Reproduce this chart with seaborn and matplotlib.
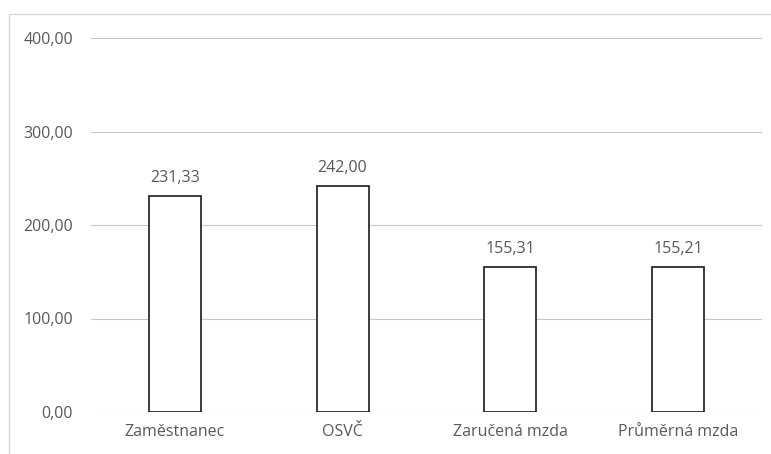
import matplotlib
matplotlib.use("Agg")
import matplotlib.pyplot as plt
from matplotlib.patches import Rectangle
import seaborn as sns
import pandas as pd

categories = ["Zaměstnanec", "OSVČ", "Zaručená mzda", "Průměrná mzda"]
values = [231.33, 242.00, 155.31, 155.21]
y_ticks = [0, 100, 200, 300, 400]

sns.set_theme(style="white")
plt.rcParams["font.family"] = ["Open Sans", "DejaVu Sans"]

text_color = "#595959"
font_size = 11.5
df = pd.DataFrame({"kategorie": categories, "hodnota": values})

fig = plt.figure(figsize=(7.71, 4.54), dpi=100)
ax = fig.add_axes([91 / 771, 42 / 454, (762 - 91) / 771, (412 - 38) / 454])

# light frame around the chart area
fig.patches.append(Rectangle((9 / 771, -0.1), 1.0, (454 - 14) / 454 + 0.1,
                             transform=fig.transFigure, fill=False,
                             edgecolor="#d9d9d9", linewidth=1.0))

sns.barplot(data=df, x="kategorie", y="hodnota", ax=ax, color="white",
            edgecolor="#1a1a1a", linewidth=1.2, width=0.31, zorder=3)

ax.set_ylim(0, 400)
ax.set_xlim(-0.5, len(categories) - 0.5)
ax.set_yticks(y_ticks)
ax.set_yticklabels([f"{v:.2f}".replace(".", ",") for v in y_ticks])
ax.yaxis.grid(True, color="#c8c8c8", linewidth=0.8, zorder=0)
ax.set_axisbelow(True)
for s in ax.spines.values():
    s.set_visible(False)
ax.set_xlabel("")
ax.set_ylabel("")
ax.tick_params(axis="y", length=0, pad=13, labelsize=font_size, labelcolor=text_color)
ax.tick_params(axis="x", length=0, pad=9, labelsize=font_size, labelcolor=text_color)

for i, v in enumerate(values):
    ax.annotate(f"{v:.2f}".replace(".", ","), (i, v), xytext=(0, 7),
                textcoords="offset points", ha="center", va="bottom",
                fontsize=font_size, color=text_color)

fig.savefig("out.png", dpi=100, facecolor="white")
